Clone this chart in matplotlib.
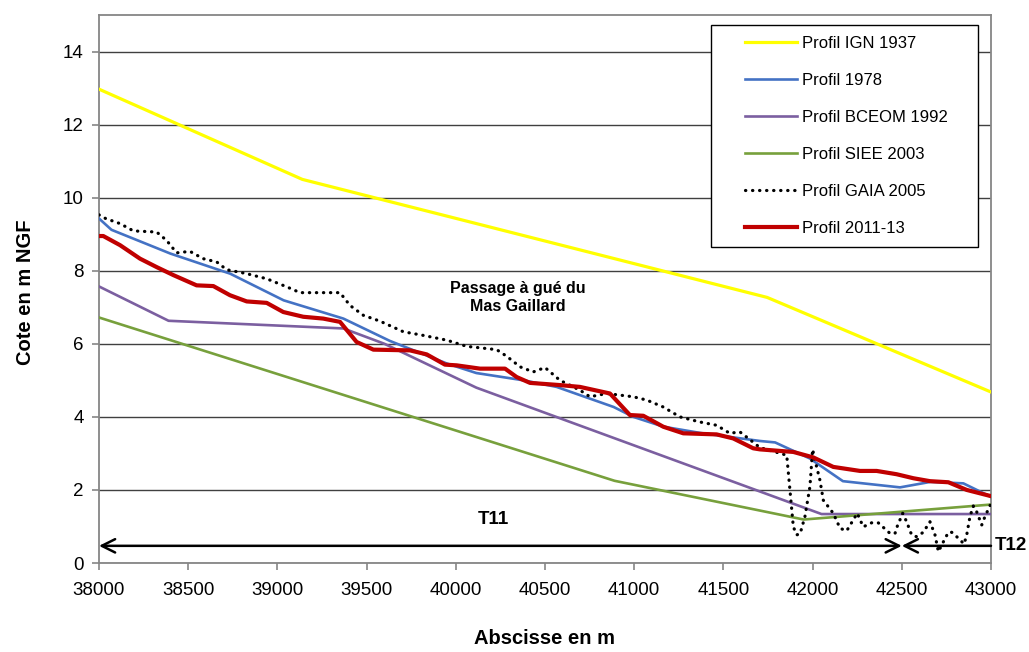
import numpy as np
import matplotlib
matplotlib.use('Agg')
import matplotlib.pyplot as plt
from matplotlib.patches import Rectangle

# profils en long (abscisse en m, cote en m NGF)
ign_x = [38000, 39140, 41745, 43000]
ign_y = [12.97, 10.50, 7.27, 4.68]

p78_x = [38000, 38070, 38400, 38735, 39035, 39370, 39630, 39950, 40115, 40380,
         40565, 40885, 40995, 41165, 41370, 41705, 41790, 41985, 42170, 42490,
         42660, 42845, 43000]
p78_y = [9.43, 9.12, 8.47, 7.92, 7.19, 6.69, 6.08, 5.46, 5.20, 5.00,
         4.82, 4.27, 4.00, 3.73, 3.56, 3.34, 3.30, 2.86, 2.24, 2.07,
         2.22, 2.18, 1.81]

bceom_x = [38000, 38390, 39370, 39600, 40115, 42050, 43000]
bceom_y = [7.57, 6.63, 6.42, 6.00, 4.80, 1.34, 1.34]

siee_x = [38000, 40890, 41950, 43000]
siee_y = [6.72, 2.25, 1.19, 1.60]

gaia_x = [38000, 38037, 38118, 38193, 38323, 38379, 38435, 38510, 38584, 38660,
          38715, 38828, 38940, 39052, 39127, 39351, 39407, 39482, 39575, 39706,
          39818, 39949, 40061, 40229, 40285, 40360, 40434, 40500, 40584, 40696,
          40752, 40846, 40995, 41070, 41163, 41256, 41368, 41462, 41536, 41592,
          41648, 41686, 41705, 41855, 41892, 41911, 41930, 41957, 41985, 42000,
          42013, 42041, 42060, 42116, 42154, 42191, 42228, 42250, 42284, 42331,
          42368, 42434, 42462, 42475, 42505, 42527, 42555, 42583, 42620, 42658,
          42686, 42705, 42733, 42761, 42780, 42817, 42849, 42864, 42882, 42901,
          42920, 42948, 42966, 43000]
gaia_y = [9.53, 9.43, 9.29, 9.09, 9.06, 8.83, 8.49, 8.53, 8.33, 8.24,
          8.03, 7.92, 7.78, 7.56, 7.40, 7.40, 7.05, 6.78, 6.62, 6.33,
          6.23, 6.10, 5.93, 5.84, 5.66, 5.37, 5.23, 5.35, 5.00, 4.73,
          4.55, 4.64, 4.55, 4.46, 4.27, 4.00, 3.86, 3.77, 3.55, 3.59,
          3.38, 3.23, 3.16, 2.95, 0.99, 0.77, 0.80, 1.27, 2.09, 3.11,
          2.82, 2.27, 1.72, 1.36, 0.95, 0.88, 1.18, 1.36, 0.99, 1.10,
          1.10, 0.81, 0.81, 1.01, 1.36, 1.13, 0.77, 0.72, 0.84, 1.13,
          0.77, 0.31, 0.58, 0.84, 0.84, 0.68, 0.52, 0.77, 1.27, 1.56,
          1.40, 1.04, 1.27, 1.63]

p2011_x = [38000, 38024, 38118, 38230, 38323, 38417, 38547, 38641, 38734, 38828,
           38940, 39033, 39145, 39257, 39351, 39444, 39538, 39743, 39837, 39939,
           40005, 40136, 40276, 40341, 40416, 40584, 40696, 40864, 40976, 41051,
           41163, 41275, 41462, 41555, 41667, 41705, 41892, 42004, 42116, 42266,
           42359, 42471, 42565, 42658, 42761, 42864, 43000]
p2011_y = [8.95, 8.95, 8.70, 8.33, 8.10, 7.88, 7.60, 7.58, 7.33, 7.16,
           7.12, 6.87, 6.74, 6.69, 6.60, 6.05, 5.84, 5.82, 5.71, 5.43,
           5.41, 5.32, 5.32, 5.09, 4.93, 4.87, 4.82, 4.64, 4.05, 4.03,
           3.73, 3.55, 3.52, 3.41, 3.14, 3.11, 3.04, 2.89, 2.63, 2.52,
           2.52, 2.43, 2.32, 2.24, 2.21, 2.00, 1.83]

troncons = [('T11', 38000, 42500), ('T12', 42500, 43000)]

plt.rcParams['font.family'] = ['Liberation Sans', 'DejaVu Sans']

fig = plt.figure(figsize=(10.29, 6.52), dpi=100)
ax = fig.add_axes([99/1029, 1-563/652, 892/1029, 548/652])

ax.plot(ign_x, ign_y, color='#FFFF00', lw=2.3, label='Profil IGN 1937', zorder=3)
ax.plot(p78_x, p78_y, color='#4472C4', lw=1.9, label='Profil 1978', zorder=3)
ax.plot(bceom_x, bceom_y, color='#7B5FA0', lw=1.9, label='Profil BCEOM 1992', zorder=3)
ax.plot(siee_x, siee_y, color='#77A03C', lw=1.9, label='Profil SIEE 2003', zorder=3)
ax.plot(gaia_x, gaia_y, color='black', lw=2.3, ls=(0, (0.1, 2.1)),
        dash_capstyle='round', label='Profil GAIA 2005', zorder=3)
ax.plot(p2011_x, p2011_y, color='#C00000', lw=3.0, label='Profil 2011-13', zorder=3)

ax.set_xlim(38000, 43000)
ax.set_ylim(0, 15)
ax.set_xticks(np.arange(38000, 43001, 500))
ax.set_yticks(np.arange(0, 15, 2))
ax.grid(axis='y', color='#404040', lw=1.0, zorder=1)
ax.set_axisbelow(True)
for s in ax.spines.values():
    s.set_color('#868686')
    s.set_linewidth(1.3)
ax.tick_params(direction='out', length=5, width=1.2, color='#868686',
               labelsize=13.5, pad=6)
ax.tick_params(axis='x', pad=9)

# titres des axes
fig.text(545/1029, 1-638/652, 'Abscisse en m', fontweight='bold', fontsize=14.5,
         ha='center', va='center')
fig.text(26/1029, 1-292/652, 'Cote en m NGF', fontweight='bold', fontsize=14.5,
         ha='center', va='center', rotation=90)

# tronçons T11 / T12
yf = 0.47
for nom, x0, x1 in troncons:
    style = '<->' if nom == 'T11' else '<-'
    ax.annotate('', xy=(x1, yf), xytext=(x0, yf),
                arrowprops=dict(arrowstyle=style, color='black', lw=1.8,
                                mutation_scale=24, shrinkA=0, shrinkB=0),
                zorder=4)
ax.text(40210, 1.2, 'T11', fontsize=13.5, fontweight='bold', ha='center', va='center')
ax.text(43020, yf, 'T12', fontsize=13.5, fontweight='bold', ha='left', va='center',
        clip_on=False)

ax.text(40350, 7.27, 'Passage à gué du\nMas Gaillard', fontsize=11.5,
        fontweight='bold', ha='center', va='center', linespacing=1.25)

# cadre de la légende
ax.add_patch(Rectangle((711/1029, 1-247/652), 267/1029, 222/652,
                       transform=fig.transFigure, facecolor='white',
                       edgecolor='black', lw=1.0, zorder=5, clip_on=False))
leg = ax.legend(loc='upper left', bbox_to_anchor=(745/1029, 1-36/652),
                bbox_transform=fig.transFigure, frameon=False, fontsize=12,
                handlelength=3.1, handletextpad=0.35, labelspacing=1.32,
                borderaxespad=0, borderpad=0)
leg.set_zorder(6)

fig.savefig('out.png', dpi=100)
